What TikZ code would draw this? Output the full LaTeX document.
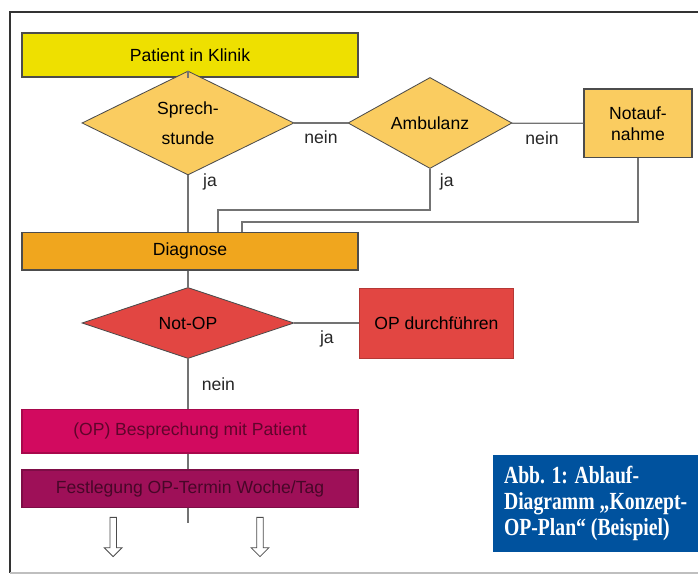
\documentclass[tikz,border=0pt]{standalone}
\usepackage{fontspec}
\setmainfont{Liberation Sans}
\newfontfamily\capfont[FakeStretch=0.8]{Liberation Serif}
\usepackage{tikz}
\usetikzlibrary{positioning,arrows.meta,shapes.geometric,shapes.arrows,calc}
\definecolor{klinikyellow}{RGB}{238,224,0}
\definecolor{lightorange}{RGB}{250,204,96}
\definecolor{diagorange}{RGB}{240,166,30}
\definecolor{opred}{RGB}{226,70,66}
\definecolor{besprmagenta}{RGB}{210,10,95}
\definecolor{festlpurple}{RGB}{158,16,88}
\definecolor{capblue}{RGB}{0,82,158}
\colorlet{linegrey}{black!55}
\colorlet{boxdraw}{black!70}

\begin{document}
\begin{tikzpicture}[x=1cm,y=1cm,every node/.style={font=\fontsize{12.5}{15}\selectfont},
    box/.style={draw=boxdraw,line width=.8pt,minimum width=8.4cm,align=center,inner sep=2pt},
    raute/.style={diamond,draw=boxdraw,line width=.6pt,inner sep=0pt,align=center},
    verb/.style={draw=linegrey,line width=.9pt},
    lbl/.style={text=black!85}]
    \useasboundingbox (0,0) rectangle (17.45,14.375);
    \draw[black!80,line width=.8pt] (0.25,0.05) -- (0.25,14.075) -- (17.45,14.075);
    \draw[black!25,line width=.8pt] (0.25,0.05) -- (17.45,0.05);
    \node[box,fill=klinikyellow,minimum height=1.1cm] (patient) at (4.75,13.0) {Patient in Klinik};
    \node[raute,fill=lightorange,minimum width=5.3cm,minimum height=1.75cm] (sprech) at (4.7,11.3) {Sprech-\\[6pt]stunde};
    \node[raute,fill=lightorange,minimum width=4.1cm,minimum height=2.25cm] (amb) at (10.75,11.3) {Ambulanz};
    \node[draw=boxdraw,line width=.8pt,fill=lightorange,minimum width=2.7cm,minimum height=1.72cm,align=center] (notauf) at (15.95,11.29) {Notauf-\\nahme};
    \node[box,fill=diagorange,minimum height=.93cm] (diag) at (4.75,8.09) {Diagnose};
    \node[raute,fill=opred,minimum width=5.3cm,minimum height=1.72cm] (notop) at (4.7,6.3) {Not-OP};
    \node[draw=opred!80!black,line width=.6pt,fill=opred,minimum width=3.83cm,minimum height=1.75cm] (opdurch) at (10.91,6.3) {OP durchführen};
    \node[box,draw=besprmagenta!80!black,fill=besprmagenta,text=besprmagenta!45!black,minimum height=1.08cm] (bespr) at (4.75,3.59) {(OP) Besprechung mit Patient};
    \node[box,draw=festlpurple!80!black,fill=festlpurple,text=festlpurple!45!black,minimum height=.93cm] (festl) at (4.75,2.16) {Festlegung OP-Termin Woche/Tag};
    \coordinate (ende) at (4.7,1.3);
    \node[single arrow,draw=black!70,fill=white,line width=.6pt,shape border rotate=270,inner sep=.07cm,single arrow head extend=.14cm,single arrow head indent=0cm,minimum height=.98cm] (pfeila) at (2.83,0.99) {};
    \node[single arrow,draw=black!70,fill=white,line width=.6pt,shape border rotate=270,inner sep=.07cm,single arrow head extend=.14cm,single arrow head indent=0cm,minimum height=.98cm] (pfeilb) at (6.5,0.99) {};
    \node[fill=capblue,text=white,minimum width=5.13cm,minimum height=2.43cm,align=left,inner sep=0pt,font=\capfont\bfseries\fontsize{17.5}{18.5}\selectfont] (capt) at (14.89,1.79) {Abb. 1: Ablauf-\\Diagramm „Konzept-\\OP-Plan“ (Beispiel)};
    \draw[verb] (patient.south -| sprech.north) -- (sprech.north);
    \draw[verb] (sprech) -- node[lbl,pos=.5,below=2pt] (nein1) {nein} (amb);
    \draw[verb] (amb) -- node[lbl,pos=.42,below=2pt] (nein2) {nein} (notauf);
    \draw[verb] (sprech.south) -- (sprech.south |- diag.north);
    \draw[verb] (amb.south) -- (amb.south |- 0,9.125) -| ([xshift=.7cm]diag.north);
    \draw[verb] (notauf.south) -- (notauf.south |- 0,8.825) -| ([xshift=1.3cm]diag.north);
    \node[lbl] (ja1) at (5.25,9.825) {ja};
    \node[lbl] (ja2) at (11.17,9.825) {ja};
    \draw[verb] (diag.south -| notop.north) -- (notop.north);
    \draw[verb] (notop) -- node[lbl,pos=.5,below=2pt] (ja3) {ja} (opdurch);
    \draw[verb] (notop.south) -- node[lbl,right=6pt] (nein3) {nein} (notop.south |- bespr.north);
    \draw[verb] (bespr.south -| ende) -- (festl.north -| ende);
    \draw[verb] (festl.south -| ende) -- (ende);
\end{tikzpicture}
\end{document}
